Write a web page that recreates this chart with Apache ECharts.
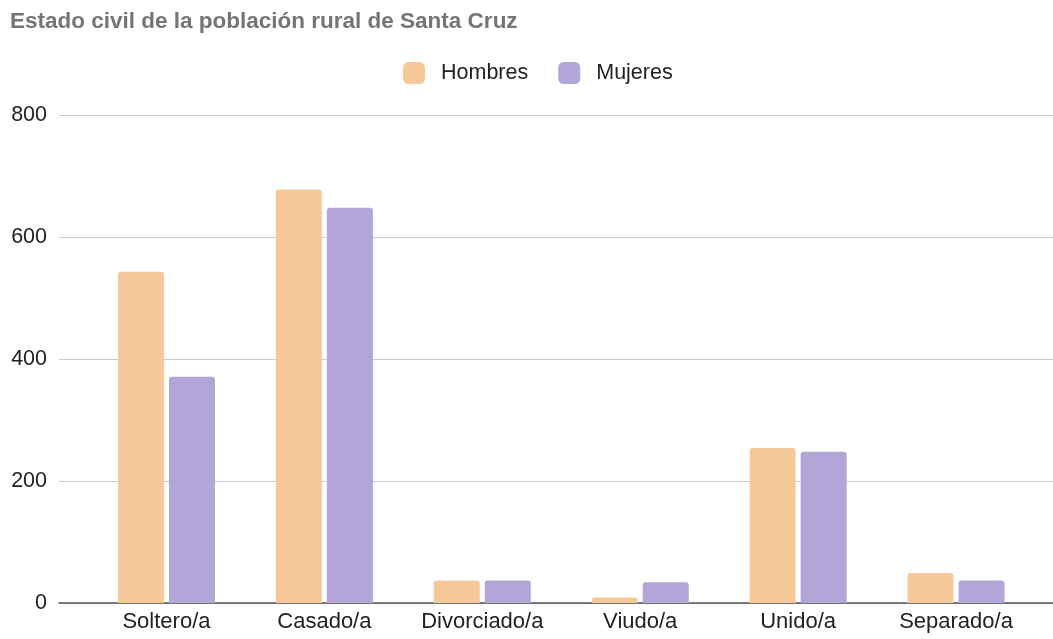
<!DOCTYPE html>
<html>
<head>
<meta charset="utf-8">
<script src="https://cdn.jsdelivr.net/npm/echarts@6/dist/echarts.min.js"></script>
<style>
  html, body { margin: 0; padding: 0; background: #ffffff; }
  #chart { width: 1053px; height: 639px; }
</style>
</head>
<body>
<div id="chart"></div>
<script>
// Estado civil de la población rural de Santa Cruz
var categories = ['Soltero/a', 'Casado/a', 'Divorciado/a', 'Viudo/a', 'Unido/a', 'Separado/a'];
var hombres = [543, 678, 37, 9, 254, 49];
var mujeres = [371, 648, 37, 34, 248, 37];
var yTicks = [0, 200, 400, 600, 800];

var FONT = '"Liberation Sans", Arial, sans-serif';
var chart = echarts.init(document.getElementById('chart'), null, { renderer: 'canvas' });

chart.setOption({
  backgroundColor: '#ffffff',
  animation: false,
  title: {
    text: 'Estado civil de la población rural de Santa Cruz',
    left: 5,
    top: 5,
    textStyle: { fontFamily: FONT, fontSize: 22.5, fontWeight: 'bold', color: '#757575' }
  },
  legend: {
    data: ['Hombres', 'Mujeres'],
    left: 398,
    top: 57,
    icon: 'roundRect',
    itemWidth: 22,
    itemHeight: 22,
    itemGap: 30,
    textStyle: { fontFamily: FONT, fontSize: 21.5, color: '#222222', padding: [0, 0, 0, 11] }
  },
  grid: [
    // full-width grid carrying the gridlines and the baseline
    { left: 59, right: 0, top: 115, bottom: 36, containLabel: false },
    // inner band holding the bars and category labels
    { left: 87.5, right: 18, top: 115, bottom: 36, containLabel: false }
  ],
  xAxis: [
    {
      type: 'category', gridIndex: 0, data: categories,
      axisLine: { show: true, lineStyle: { color: '#555555', width: 1.5 } },
      axisTick: { show: false }, axisLabel: { show: false }, splitLine: { show: false }
    },
    {
      type: 'category', gridIndex: 1, data: categories,
      axisLine: { show: false }, axisTick: { show: false },
      axisLabel: { interval: 0, hideOverlap: false, fontFamily: FONT, fontSize: 22, color: '#222222', margin: 8 }
    }
  ],
  yAxis: [
    {
      type: 'value', gridIndex: 0, min: yTicks[0], max: yTicks[yTicks.length - 1], interval: 200,
      axisLine: { show: false }, axisTick: { show: false },
      axisLabel: { fontFamily: FONT, fontSize: 21.5, color: '#222222', margin: 12 },
      splitLine: { lineStyle: { color: '#cccccc', width: 1 } }
    },
    {
      type: 'value', gridIndex: 1, min: yTicks[0], max: yTicks[yTicks.length - 1], interval: 200,
      show: false, splitLine: { show: false }
    }
  ],
  series: [
    {
      name: 'Hombres', type: 'bar', xAxisIndex: 1, yAxisIndex: 1,
      data: hombres, barWidth: 46, barGap: '11%',
      itemStyle: { color: '#f7c899', borderRadius: [3, 3, 0, 0] }
    },
    {
      name: 'Mujeres', type: 'bar', xAxisIndex: 1, yAxisIndex: 1,
      data: mujeres, barWidth: 46, barGap: '11%',
      itemStyle: { color: '#b2a5d7', borderRadius: [3, 3, 0, 0] }
    }
  ]
});
</script>
</body>
</html>
